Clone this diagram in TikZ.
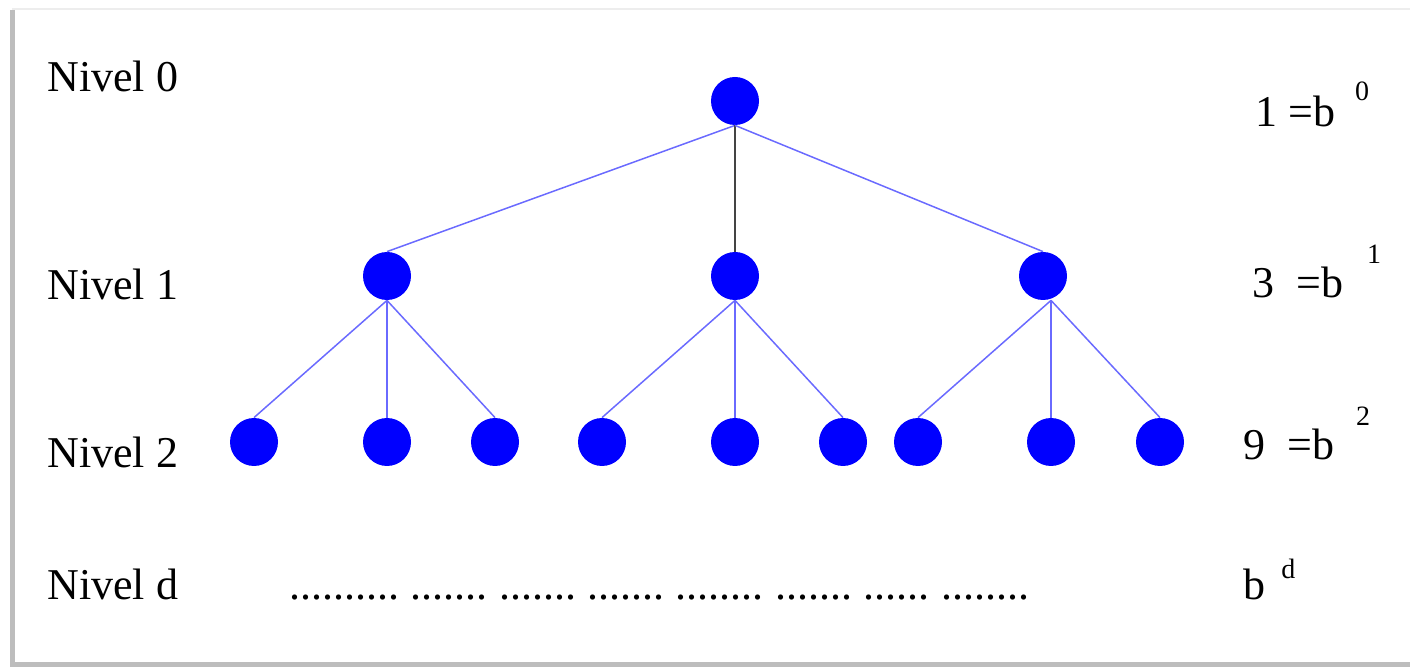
\documentclass[tikz,border=0pt]{standalone}
\usepackage{fontspec}
\setmainfont{Liberation Serif}
\usetikzlibrary{positioning}
\definecolor{nodefill}{HTML}{0000FF}
\definecolor{edgeline}{HTML}{6A6AFF}
\definecolor{trunkline}{HTML}{444444}
\definecolor{shadeline}{HTML}{BDBDBD}
\definecolor{topline}{HTML}{EDEDED}
\definecolor{ink}{HTML}{000000}
\newcommand{\expfont}{\fontsize{14}{14}\selectfont}
\newcommand{\gap}{\hspace{5.7pt}}

\begin{document}
\begin{tikzpicture}[
  x=0.5pt, y=-0.5pt,
  vertex/.style={circle, fill=nodefill, draw=none, inner sep=0pt, minimum size=24pt},
  edge/.style={draw=edgeline, line width=0.75pt},
  trunk/.style={draw=trunkline, line width=0.75pt},
  lvl/.style={anchor=base west, inner sep=0pt, text=ink, font=\fontsize{22}{26}\selectfont},
  cnt/.style={lvl},
]
\useasboundingbox (0,0) rectangle (1410,668);

% ===== frame with soft shadow =====
\draw[draw=topline, line width=1pt] (12,9) -- (1410,9);
\draw[draw=shadeline, line width=2.5pt] (12,10) -- (12,664) -- (1410,664);

% ===== level labels (left) =====
\node[lvl] (n0) at (47,92)  {Nivel 0};
\node[lvl] (n1) at (47,300) {Nivel 1};
\node[lvl] (n2) at (47,467) {Nivel 2};
\node[lvl] (nd) at (47,599) {Nivel d};

% ===== node counts (right) =====
\node[cnt] (c0) at (1255,127) {1 =b\hspace{10pt}\raisebox{13pt}{\expfont 0}};
\node[cnt] (c1) at (1252,298) {3~~=b\hspace{12pt}\raisebox{17pt}{\expfont 1}};
\node[cnt] (c2) at (1243,459) {9~~=b\hspace{11pt}\raisebox{17pt}{\expfont 2}};
\node[cnt] (cd) at (1243,599) {b\hspace{8pt}\raisebox{10pt}{\expfont d}};

% ===== tree =====
\node[vertex] (r)  at (735,101) {};
\node[vertex] (a1) at (387,276) {};
\node[vertex] (a2) at (735,276) {};
\node[vertex] (a3) at (1043,276) {};
\node[vertex] (b1) at (254,442) {};
\node[vertex] (b2) at (387,442) {};
\node[vertex] (b3) at (495,442) {};
\node[vertex] (b4) at (602,442) {};
\node[vertex] (b5) at (735,442) {};
\node[vertex] (b6) at (843,442) {};
\node[vertex] (b7) at (918,442) {};
\node[vertex] (b8) at (1051,442) {};
\node[vertex] (b9) at (1160,442) {};

\draw[edge]  (r.south) -- (a1.north);
\draw[trunk] (r.south) -- (a2.north);
\draw[edge]  (r.south) -- (a3.north);
\draw[edge] (a1.south) -- (b1.north);
\draw[edge] (a1.south) -- (b2.north);
\draw[edge] (a1.south) -- (b3.north);
\draw[edge] (a2.south) -- (b4.north);
\draw[edge] (a2.south) -- (b5.north);
\draw[edge] (a2.south) -- (b6.north);
\draw[edge] ([xshift=4pt]a3.south) -- (b7.north);
\draw[edge] ([xshift=4pt]a3.south) -- (b8.north);
\draw[edge] ([xshift=4pt]a3.south) -- (b9.north);

% ===== level d: elided nodes =====
\node[lvl] (dots) at (289,599)
  {..........\gap.......\gap.......\gap.......\gap........\gap.......\gap......\gap........};

\end{tikzpicture}
\end{document}
